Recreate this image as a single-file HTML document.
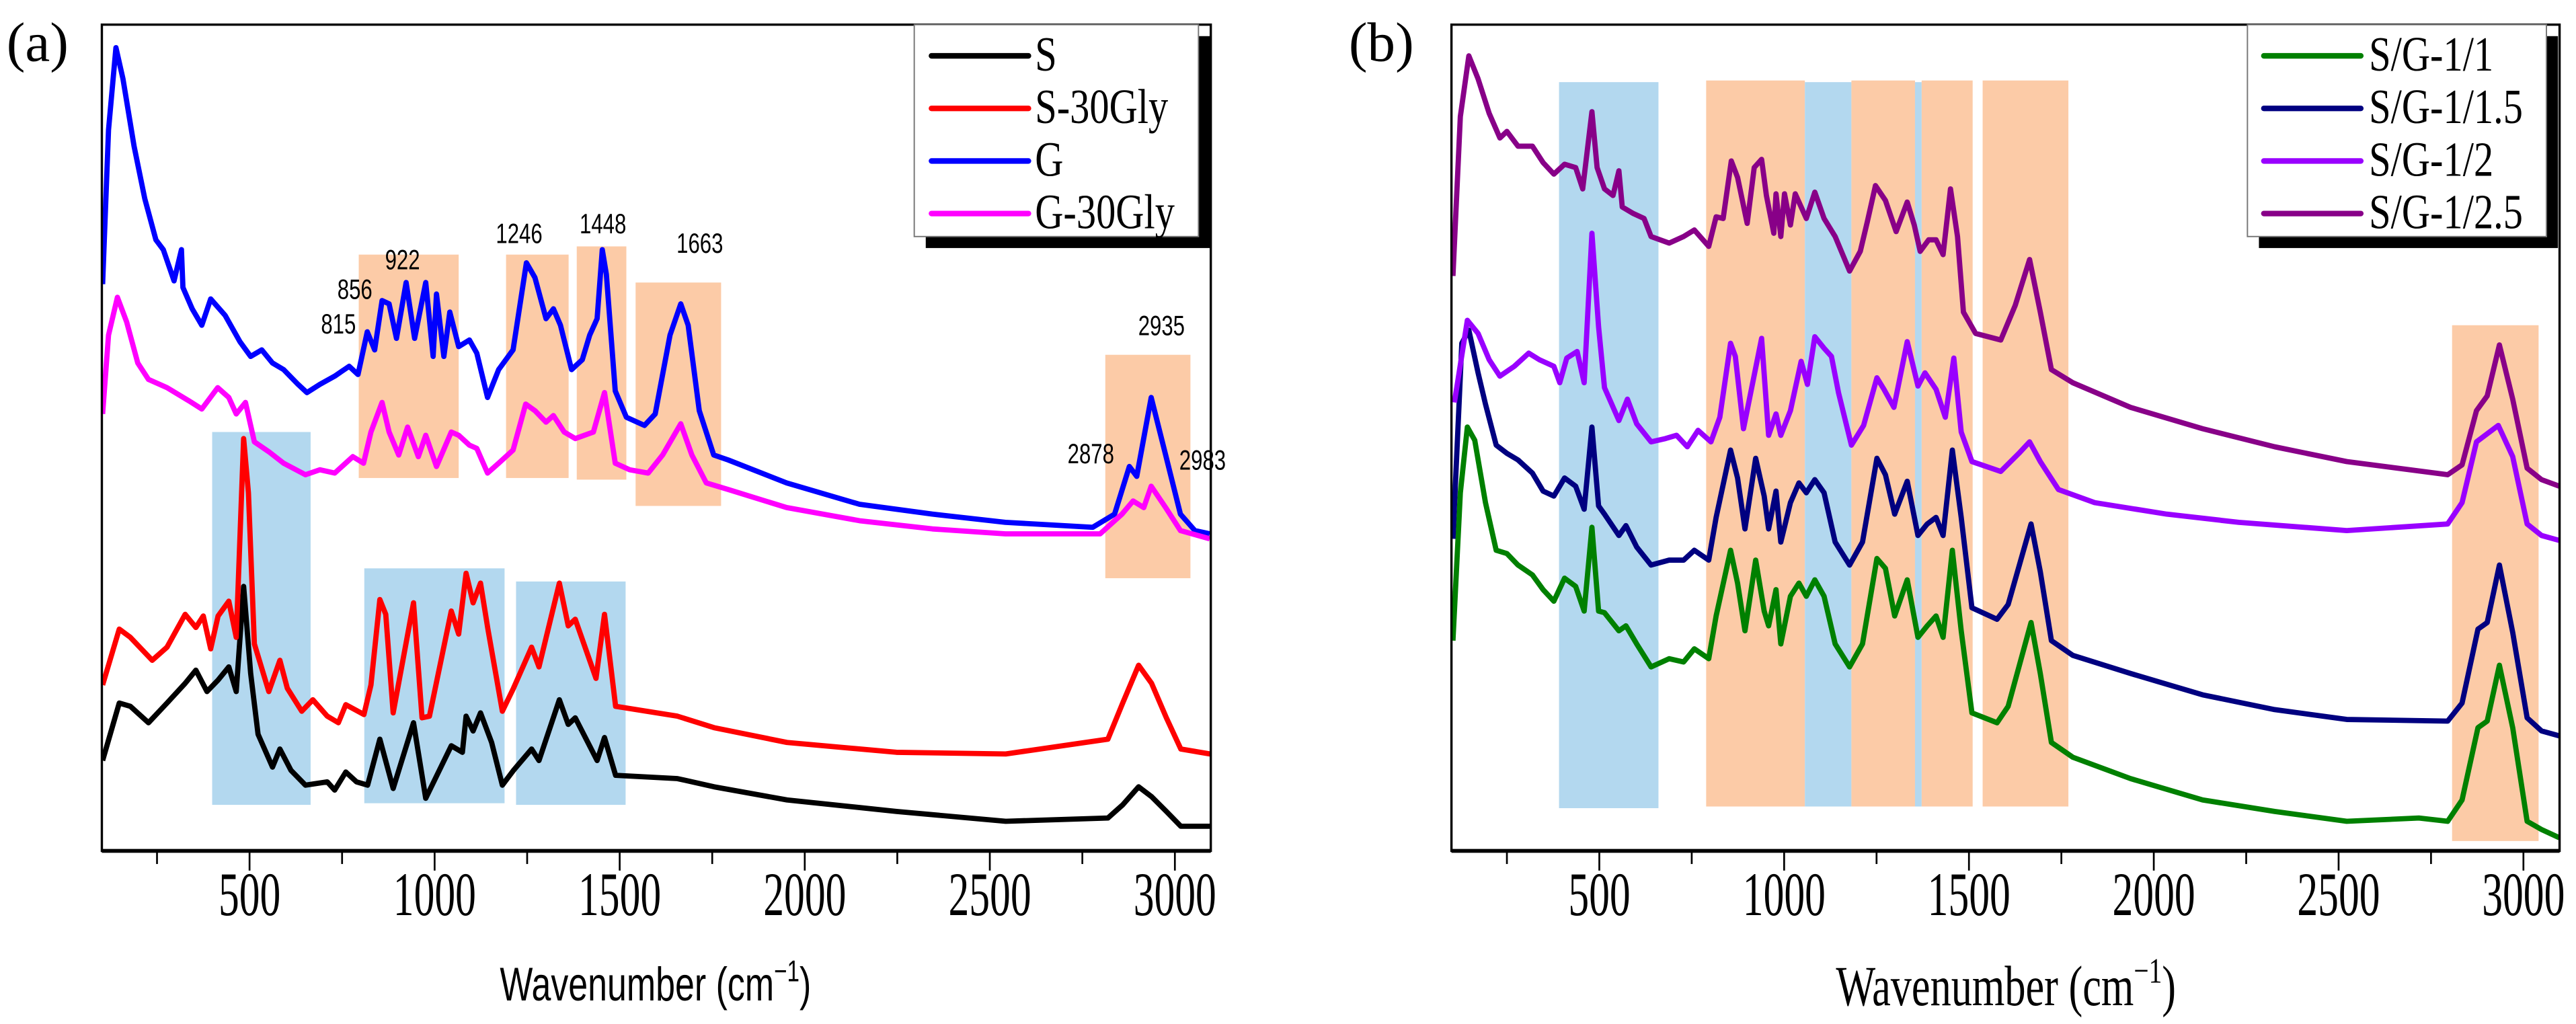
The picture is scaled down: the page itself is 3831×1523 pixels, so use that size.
<!DOCTYPE html>
<html><head><meta charset="utf-8"><style>
html,body{margin:0;padding:0;background:#fff;}
svg{display:block;}
</style></head><body>
<svg id="fig" xmlns="http://www.w3.org/2000/svg" width="3831" height="1523" viewBox="0 0 1568 623.4" preserveAspectRatio="none">
<rect x="0" y="0" width="1568" height="623.4" fill="#fff"/>
<g id="panelA"></g>
<g id="panelB"></g>
</svg>
<script>
// ---------- data ----------
const tickValues = [500, 1000, 1500, 2000, 2500, 3000];
const minorTickValues = [250, 750, 1250, 1750, 2250, 2750];
const seriesNamesA = ["S", "S-30Gly", "G", "G-30Gly"];
const seriesColorsA = ["#000000", "#ff0000", "#0000ff", "#ff00ff"];
const seriesNamesB = ["S/G-1/1", "S/G-1/1.5", "S/G-1/2", "S/G-1/2.5"];
const seriesColorsB = ["#008000", "#000080", "#9900ff", "#880088"];

const specS = [[103,55],[148,90],[178,88],[227,78],[277,90],[326,102],[355,110],[385,97],[415,104],[444,112],[464,97],[484,161],[503,108],[523,71],[562,51],[582,62],[612,49],[651,40],[710,42],[730,37],[760,48],[789,42],[819,40],[852,68],[888,38],[943,78],[976,32],[1045,64],[1075,60],[1085,82],[1104,73],[1124,84],[1154,66],[1183,40],[1213,49],[1262,62],[1282,55],[1337,92],[1361,77],[1380,81],[1439,55],[1459,69],[1489,46],[1656,44],[1755,39],[1952,31],[2248,24],[2543,18],[2819,20],[2859,28],[2902,39],[2937,33],[2977,24],[3016,15],[3095,15]];
const specS30 = [[103,101],[148,135],[178,130],[237,116],[277,124],[326,144],[355,136],[375,143],[395,123],[415,143],[444,152],[464,130],[484,251],[497,218],[513,126],[552,97],[582,116],[602,99],[641,85],[671,92],[710,82],[740,78],[760,89],[809,83],[828,101],[852,153],[868,144],[888,84],[943,151],[966,81],[986,82],[1045,146],[1065,132],[1085,169],[1104,151],[1124,163],[1144,135],[1183,85],[1213,99],[1262,124],[1282,112],[1337,163],[1361,137],[1380,141],[1436,105],[1459,144],[1489,88],[1656,82],[1755,75],[1952,66],[2248,60],[2543,59],[2819,68],[2859,90],[2902,113],[2937,102],[2977,81],[3016,62],[3095,59]];
const specG = [[103,345],[119,439],[139,489],[158,470],[188,429],[217,397],[247,372],[267,366],[296,347],[316,366],[320,343],[345,330],[371,320],[395,336],[434,326],[474,310],[503,301],[533,305],[562,297],[592,293],[631,284],[655,279],[690,284],[730,289],[769,295],[793,290],[818,316],[838,305],[858,335],[877,333],[897,312],[923,346],[946,312],[976,346],[996,301],[1005,339],[1025,301],[1041,328],[1065,307],[1094,311],[1114,303],[1143,276],[1173,293],[1212,305],[1248,358],[1271,349],[1301,324],[1321,330],[1340,320],[1370,293],[1399,299],[1419,314],[1439,324],[1453,366],[1464,351],[1488,280],[1518,264],[1567,259],[1596,266],[1636,314],[1665,333],[1685,320],[1715,268],[1754,241],[1793,238],[1951,224],[2148,211],[2345,205],[2542,200],[2778,197],[2837,205],[2877,234],[2897,228],[2936,276],[2975,241],[3015,205],[3054,195],[3094,193]];
const specG30 = [[103,266],[119,314],[143,337],[168,322],[198,297],[227,287],[277,282],[336,274],[371,269],[414,282],[444,276],[464,266],[489,273],[513,249],[552,243],[592,236],[651,229],[690,232],[730,230],[779,240],[808,236],[828,255],[858,273],[877,255],[903,241],[927,258],[956,240],[976,253],[1005,234],[1045,255],[1065,253],[1094,247],[1114,245],[1143,230],[1173,236],[1212,244],[1246,272],[1271,268],[1301,261],[1321,265],[1350,255],[1380,251],[1429,255],[1459,279],[1488,236],[1527,232],[1577,230],[1616,241],[1665,260],[1695,241],[1734,224],[1793,220],[1951,209],[2148,201],[2345,196],[2542,193],[2798,193],[2857,205],[2887,213],[2916,209],[2936,222],[2975,209],[3015,195],[3094,190]];

const specSG1 = [[104,128],[124,218],[143,258],[163,250],[192,212],[221,183],[250,181],[280,174],[319,168],[348,159],[377,152],[406,166],[436,161],[459,146],[480,197],[498,146],[514,145],[553,134],[572,137],[601,126],[640,112],[689,117],[728,115],[757,123],[796,117],[816,143],[855,183],[874,163],[894,134],[923,177],[946,146],[958,137],[978,159],[991,126],[1017,155],[1040,163],[1060,155],[1083,165],[1108,155],[1138,126],[1177,112],[1212,126],[1251,178],[1274,172],[1299,143],[1333,165],[1362,130],[1387,137],[1411,143],[1430,130],[1455,183],[1479,134],[1508,84],[1576,78],[1606,88],[1668,139],[1693,108],[1723,66],[1781,57],[1937,44],[2132,31],[2327,24],[2522,18],[2717,20],[2795,18],[2834,31],[2877,75],[2902,79],[2935,113],[2971,75],[3010,18],[3049,13],[3097,8]];
const specSG15 = [[104,190],[128,309],[147,317],[172,291],[192,272],[221,247],[250,242],[280,238],[319,230],[348,219],[377,216],[406,227],[436,222],[459,208],[480,258],[498,210],[514,205],[553,192],[572,198],[601,185],[640,174],[689,177],[728,177],[757,183],[796,177],[816,203],[855,244],[874,227],[894,196],[923,239],[946,216],[958,196],[978,219],[991,188],[1017,212],[1040,224],[1060,218],[1083,226],[1108,218],[1138,188],[1177,174],[1212,188],[1251,239],[1274,229],[1299,205],[1333,225],[1362,192],[1387,199],[1411,203],[1430,192],[1455,244],[1479,203],[1508,148],[1576,141],[1606,150],[1668,199],[1693,170],[1723,128],[1781,119],[1937,108],[2132,95],[2327,86],[2522,80],[2795,79],[2834,90],[2877,135],[2902,139],[2935,174],[2971,133],[3010,81],[3049,73],[3097,70]];
const specSG2 = [[108,273],[143,323],[172,315],[202,299],[231,289],[270,295],[309,303],[338,299],[377,295],[393,285],[412,300],[440,304],[459,285],[480,376],[498,319],[514,282],[553,262],[576,275],[601,260],[640,249],[679,251],[709,253],[738,246],[767,256],[802,249],[826,264],[855,309],[868,301],[890,257],[939,312],[958,253],[978,266],[991,253],[1017,268],[1046,298],[1063,284],[1083,313],[1108,306],[1128,301],[1147,279],[1182,247],[1215,259],[1251,288],[1270,281],[1297,270],[1333,310],[1362,283],[1381,291],[1411,281],[1436,264],[1459,300],[1479,255],[1508,237],[1586,231],[1635,242],[1664,249],[1693,237],[1742,220],[1840,212],[2035,205],[2230,200],[2522,195],[2795,199],[2834,212],[2873,249],[2932,259],[2971,240],[3010,199],[3049,192],[3097,189]];
const specSG25 = [[104,350],[124,447],[147,484],[172,470],[202,449],[231,434],[250,438],[280,429],[319,429],[348,419],[377,412],[406,418],[436,416],[455,403],[480,450],[494,416],[514,403],[537,399],[553,414],[562,392],[592,388],[621,385],[640,374],[689,370],[728,374],[757,378],[796,368],[816,386],[835,385],[857,420],[874,410],[900,382],[919,416],[939,421],[952,399],[972,376],[978,400],[991,374],[1001,400],[1017,381],[1030,400],[1060,385],[1083,401],[1108,385],[1138,374],[1177,353],[1206,365],[1225,383],[1247,405],[1274,396],[1303,377],[1333,395],[1352,381],[1368,365],[1391,372],[1411,372],[1430,363],[1450,403],[1469,374],[1485,328],[1518,315],[1586,311],[1625,332],[1664,360],[1693,328],[1723,293],[1781,285],[1937,270],[2132,257],[2327,246],[2522,237],[2795,229],[2834,235],[2873,268],[2902,277],[2935,308],[2971,275],[3010,233],[3049,226],[3097,222]];

// bands: [w1, w2, vBottom, vTop, type]
const bandsA = [[399,665,28,255,"blue"],[810,1189,29,172,"blue"],[1220,1516,28,164,"blue"],[795,1065,227,363,"orange"],[1193,1362,227,363,"orange"],[1384,1518,226,368,"orange"],[1543,1774,210,346,"orange"],[2812,3042,166,302,"orange"]];
const bandsB = [[391,660,26,468,"blue"],[789,1056,27,469,"orange"],[1056,1182,27,468,"blue"],[1182,1354,27,469,"orange"],[1354,1372,27,468,"blue"],[1372,1510,27,469,"orange"],[1537,1769,27,469,"orange"],[2807,3041,6,320,"orange"]];

const peakLabels = ["815","856","922","1246","1448","1663","2935","2878","2983"];
const peakLabelPos = [[206,198],[216,177],[245,159],[316,143],[367,137],[426,149],[707,199],[664,277],[732,281]];

// ---------- helpers ----------
const NS = "http://www.w3.org/2000/svg";
function mk(tag, attrs, parent){ const e=document.createElementNS(NS,tag); for(const k in attrs) e.setAttribute(k,attrs[k]); parent.appendChild(e); return e; }
const bandColor = {blue:"#b3d8ef", orange:"#fccba7"};

function drawPanel(g, cfg){
  const x = w => cfg.x0 + (w-500)*cfg.k;
  const y = v => 518 - v;
  const clipId = cfg.id+"clip";
  const defs = mk("defs",{},g);
  const cp = mk("clipPath",{id:clipId},defs);
  mk("rect",{x:cfg.left,y:15,width:cfg.right-cfg.left,height:503},cp);
  cfg.bands.forEach((b,i)=>{
    const r = mk("rect",{x:x(b[0]),y:y(b[3]),width:x(b[1])-x(b[0]),height:b[3]-b[2],fill:bandColor[b[4]]},g);
    
    
  });
  cfg.series.forEach((s,i)=>{
    const p = mk("polyline",{points:s.map(d=>x(d[0]).toFixed(2)+","+y(d[1]).toFixed(2)).join(" "),fill:"none",stroke:cfg.colors[i],"stroke-width":3.2,"stroke-linejoin":"round","clip-path":"url(#"+clipId+")"},g);
    
    
  });
  const fr = mk("rect",{x:cfg.left,y:15,width:cfg.right-cfg.left,height:503,fill:"none",stroke:"#000","stroke-width":1.4},g);
  
  
  const ax = mk("line",{x1:cfg.left,x2:cfg.right,y1:518,y2:518,stroke:"#000","stroke-width":2.4},g);
  
  
  tickValues.forEach(t=>{
    const l = mk("line",{x1:x(t),x2:x(t),y1:518,y2:530,stroke:"#000","stroke-width":1.1},g);
    
    
    const tx = mk("text",{x:x(t),y:557,"text-anchor":"middle","font-family":"'Liberation Serif',serif","font-size":28,transform:"translate("+x(t)+",557) scale(0.9,1.35) translate("+(-x(t))+",-557)"},g);
    tx.textContent = t;
    
    
  });
  minorTickValues.forEach(t=>{
    const l = mk("line",{x1:x(t),x2:x(t),y1:518,y2:526,stroke:"#000","stroke-width":1.1},g);
    
    
  });
  const L = cfg.legend;
  const sh = mk("rect",{x:L.x+7,y:22,width:L.w,height:129,fill:"#000"},g);
  
  
  const lb = mk("rect",{x:L.x,y:15,width:L.w,height:129,fill:"#fff",stroke:"#777","stroke-width":0.8},g);
  
  
  cfg.names.forEach((n,i)=>{
    const yy = 34 + i*32;
    const ll = mk("line",{x1:L.lx1,x2:L.lx2,y1:yy,y2:yy,stroke:cfg.colors[i],"stroke-width":3.4,"stroke-linecap":"round"},g);
    
    
    const t = mk("text",{x:L.tx,y:yy+9,"font-family":"'Liberation Serif',serif","font-size":26,transform:"translate("+L.tx+","+(yy+9)+") scale(0.92,1.15) translate("+(-L.tx)+","+(-(yy+9))+")"},g);
    t.textContent = n;
    
    
  });
}

drawPanel(document.getElementById("panelA"),{id:"a",x0:151.9,k:0.2253,left:62,right:737,bands:bandsA,series:[specS,specS30,specG,specG30],colors:seriesColorsA,names:seriesNamesA,legend:{x:556.5,w:173,lx1:567,lx2:626,tx:630}});
drawPanel(document.getElementById("panelB"),{id:"b",x0:973.5,k:0.2250,left:883.5,right:1558,bands:bandsB,series:[specSG1,specSG15,specSG2,specSG25],colors:seriesColorsB,names:seriesNamesB,legend:{x:1368,w:182,lx1:1378,lx2:1437,tx:1442}});

const gA = document.getElementById("panelA");
peakLabels.forEach((s,i)=>{
  const p = peakLabelPos[i];
  const t = mk("text",{x:p[0],y:p[1]+5,"text-anchor":"middle","font-family":"'Liberation Sans',sans-serif","font-size":15,transform:"translate("+p[0]+","+(p[1]+5)+") scale(0.85,1.15) translate("+(-p[0])+","+(-(p[1]+5))+")"},gA);
  t.textContent = s;
  
  
});
</script>
<svg style="position:absolute;left:0;top:0" width="3831" height="1523" viewBox="0 0 1568 623.4" preserveAspectRatio="none">
<text x="4" y="37" font-family="'Liberation Serif',serif" font-size="34">(a)</text>
<text x="821" y="37" font-family="'Liberation Serif',serif" font-size="34">(b)</text>
<text x="399" y="609" text-anchor="middle" font-family="'Liberation Sans',sans-serif" font-size="25" transform="translate(399,609) scale(0.85,1.15) translate(-399,-609)">Wavenumber (cm<tspan dy="-10" font-size="16">−1</tspan><tspan dy="10">)</tspan></text>
<text x="1221" y="612" text-anchor="middle" font-family="'Liberation Serif',serif" font-size="30" transform="translate(1221,612) scale(0.85,1.15) translate(-1221,-612)">Wavenumber (cm<tspan dy="-12" font-size="19">−1</tspan><tspan dy="12">)</tspan></text>
</svg>
</body></html>
